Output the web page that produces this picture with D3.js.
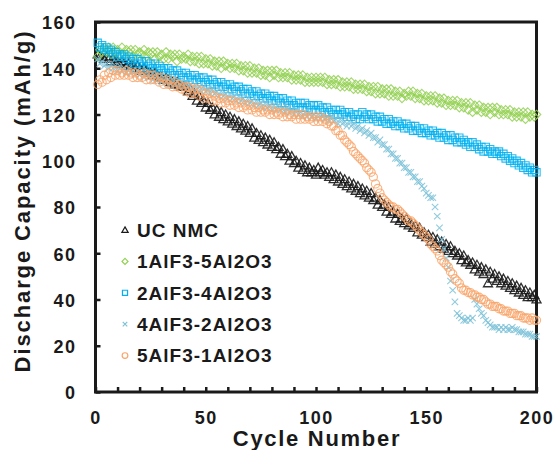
<!DOCTYPE html>
<html>
<head>
<meta charset="utf-8">
<script src="https://cdn.jsdelivr.net/npm/d3@7"></script>
<style>
  body { margin: 0; background: #fff; }
  text { font-family: Arial, "Liberation Sans", sans-serif; font-weight: bold; fill: #1a1a1a; }
</style>
</head>
<body>
<script>
const w = 554;
const h = 450;

// Data, cycles 1..200

const cycles = d3.range(1, 201);

const ucNmc = [
  146,145,145,144,145,144,143,144,143,143,142,143,142,141,142,141,141,140,141,140,
  139,140,139,138,138,137,138,137,136,136,135,136,135,134,134,133,134,133,132,132,
  132,130,131,128,129,126,128,125,126,123,125,122,123,120,122,119,121,118,120,117,
  119,116,118,115,117,114,116,113,115,112,114,110,112,109,111,108,110,107,109,106,
  108,105,106,103,105,102,103,100,102,99,100,97,99,96,98,95,97,95,96,94,
  97,95,96,94,95,93,95,92,94,91,93,90,92,89,91,88,90,87,89,86,
  88,85,87,84,86,83,84,81,83,80,81,78,80,77,78,75,77,74,75,73,
  75,72,73,71,72,69,71,68,69,67,68,65,67,64,66,63,65,62,64,61,
  63,60,61,59,60,57,59,56,57,55,56,53,55,52,54,51,53,47,52,49,
  51,48,50,47,49,46,48,45,47,44,46,43,45,42,44,41,43,41,42,40
];

const alf1 = [
  145,148,147,149,147,149,146,149,147,148,146,149,146,148,147,148,145,148,146,147,
  146,148,145,147,146,147,144,147,145,146,144,147,144,146,145,146,143,146,144,145,
  144,146,143,145,143,145,142,145,142,144,142,144,141,143,141,143,140,143,141,142,
  140,142,140,142,139,141,139,141,138,141,138,140,138,140,137,139,137,139,136,139,
  137,139,136,138,136,138,136,138,135,137,135,137,135,137,134,136,134,136,134,136,
  134,136,134,136,133,135,133,135,133,135,132,134,132,134,132,134,131,133,131,133,
  131,133,130,132,130,132,129,132,129,131,129,131,128,131,128,130,128,130,127,129,
  128,130,128,130,127,129,127,129,126,128,126,128,126,128,125,127,125,127,124,126,
  124,126,124,126,123,125,123,125,122,125,121,124,122,124,121,123,121,123,120,123,
  121,123,120,122,120,122,120,122,119,121,119,121,119,121,118,121,119,120,119,120
];

const alf2 = [
  151,149,150,148,149,147,148,146,147,145,146,145,146,144,145,143,144,142,144,142,
  143,141,143,141,142,140,142,140,141,139,140,138,140,138,139,137,139,137,138,136,
  138,136,137,135,137,135,136,134,136,134,135,133,135,133,134,132,134,132,133,131,
  133,131,132,130,132,130,131,129,131,129,130,128,130,128,129,127,129,127,128,126,
  128,126,127,125,127,125,126,124,126,124,125,123,125,123,125,123,124,122,124,122,
  124,122,123,121,123,121,122,120,122,120,122,120,121,119,121,119,120,118,120,118,
  121,119,120,118,120,118,119,117,119,117,118,116,118,116,117,115,117,115,116,114,
  116,114,115,113,115,113,114,112,114,112,113,111,113,111,112,110,112,110,111,109,
  111,109,110,108,110,108,109,107,108,106,108,106,107,105,106,104,106,104,105,103,
  104,103,104,102,103,101,102,100,101,99,100,98,99,97,98,96,97,95,96,95
];

const alf4 = [
  144,142,143,141,142,140,142,140,141,139,141,139,140,138,140,138,139,137,139,137,
  138,136,138,136,137,135,137,135,136,134,136,134,135,133,135,133,134,132,134,132,
  134,132,133,131,133,131,132,130,132,130,131,129,131,129,130,128,130,128,129,127,
  129,127,128,126,128,126,127,125,127,125,126,124,126,124,125,123,125,123,124,122,
  124,122,124,122,123,121,123,121,122,120,122,120,121,119,121,119,121,119,120,118,
  120,118,120,118,119,117,119,117,118,116,118,116,117,115,117,115,116,114,115,113,
  114,112,113,111,112,110,110,108,109,107,107,105,105,103,103,101,101,99,99,97,
  97,95,95,93,93,91,91,89,88,86,85,84,84,80,76,71,66,62,58,54,
  48,44,39,34,33,32,31,31,32,31,32,40,38,36,34,33,31,30,29,28,
  28,28,27,28,27,28,27,27,28,27,27,26,26,26,25,25,25,24,24,24
];

const alf5 = [
  133,135,134,137,135,138,136,139,137,139,137,138,137,139,137,138,136,138,136,137,
  136,138,135,137,135,137,135,136,134,136,133,135,133,135,132,134,132,133,131,132,
  130,132,129,131,129,131,128,130,127,129,127,129,126,128,126,127,125,127,125,126,
  124,126,124,125,123,125,123,124,122,124,122,123,121,123,121,122,121,122,120,122,
  120,121,120,121,119,121,119,120,119,120,118,120,118,120,118,119,118,119,117,119,
  117,119,117,118,116,117,115,115,113,113,111,111,109,108,107,106,104,103,102,101,
  100,99,97,96,95,93,90,88,86,84,83,82,81,80,80,79,79,78,77,76,
  75,74,74,73,72,71,70,69,68,67,66,64,63,62,61,59,57,56,55,54,
  52,51,49,48,47,45,44,44,43,43,42,42,41,41,40,40,39,38,38,37,
  37,37,36,36,35,35,35,34,34,34,33,33,33,32,32,32,31,32,31,31
];

const seriesNames = ["UC NMC", "1AlF3-5Al2O3", "2AlF3-4Al2O3", "4AlF3-2Al2O3", "5AlF3-1Al2O3"];
const seriesValues = [ucNmc, alf1, alf2, alf4, alf5];
const seriesColors = ["#1a1a1a", "#92d050", "#00b0f0", "#7cc2d8", "#f9a56a"];
const seriesShapes = ["triangle", "diamond", "square", "cross", "circle"];

const xTicks = d3.range(0, 201, 10);
const xLabels = [0, 50, 100, 150, 200];
const yTicks = d3.range(0, 161, 20);

// marker paths

function marker(shape, r) {
  if (shape === "triangle") return `M0,${-r * 1.05}L${r * 1.05},${r * 0.8}L${-r * 1.05},${r * 0.8}Z`;
  if (shape === "diamond") return `M0,${-r}L${r},0L0,${r}L${-r},0Z`;
  if (shape === "square") return `M${-r * 0.85},${-r * 0.85}H${r * 0.85}V${r * 0.85}H${-r * 0.85}Z`;
  if (shape === "cross") { const s = r * 0.75; return `M${-s},${-s}L${s},${s}M${s},${-s}L${-s},${s}`; }
  return d3.arc()({ innerRadius: 0, outerRadius: r * 0.95, startAngle: 0, endAngle: 2 * Math.PI });
}

// SVG

const svg = d3.select("body").append("svg").attr("width", w).attr("height", h);

const x = d3.scaleLinear().domain([0, 200]).range([95.5, 536.5]);
const y = d3.scaleLinear().domain([0, 160]).range([392, 22]);

// Axes

const xAxis = svg.append("g")
  .attr("transform", "translate(0,392)")
  .call(d3.axisBottom(x).tickValues(xTicks).tickSize(-5).tickPadding(19)
    .tickFormat((d) => (xLabels.includes(d) ? d : "")));

const yAxis = svg.append("g")
  .attr("transform", "translate(95.5,0)")
  .call(d3.axisLeft(y).tickValues(yTicks).tickSize(-5).tickPadding(19));

[xAxis, yAxis].forEach((g) => {
  g.select(".domain").remove();
  g.selectAll(".tick line").attr("stroke", "#1a1a1a").attr("stroke-width", 2.5);
  g.selectAll(".tick text")
    .attr("fill", "#1a1a1a")
    .style("font-size", "18px")
    .style("letter-spacing", "1.5px");
});
yAxis.selectAll(".tick text").attr("dy", "0.38em");

// Frame

svg.append("rect")
  .attr("x", 95.5).attr("y", 22)
  .attr("width", 441).attr("height", 370)
  .attr("fill", "none").attr("stroke", "#1a1a1a").attr("stroke-width", 3);

// Series

seriesValues.forEach((vals, i) => {
  svg.append("g")
    .selectAll("path")
    .data(vals)
    .join("path")
    .attr("transform", (d, j) => `translate(${x(cycles[j])},${y(d)})`)
    .attr("d", marker(seriesShapes[i], 4.3))
    .attr("fill", "none")
    .attr("stroke", seriesColors[i])
    .attr("stroke-width", i === 0 ? 1.3 : 1.1)
    .attr("stroke-opacity", i === 0 ? 0.9 : 0.85);
});

// Legend

const legend = svg.append("g")
  .selectAll("g")
  .data(seriesNames)
  .join("g")
  .attr("transform", (d, i) => `translate(125,${230 + i * 31.4})`);

legend.append("path")
  .attr("d", (d, i) => marker(seriesShapes[i], 3))
  .attr("fill", "none")
  .attr("stroke", (d, i) => seriesColors[i])
  .attr("stroke-width", 1.2);

legend.append("text")
  .attr("x", 12)
  .attr("dy", "0.36em")
  .style("font-size", "19px")
  .style("letter-spacing", "1px")
  .text((d) => d);

// Axis titles

svg.append("text")
  .attr("x", 317).attr("y", 446)
  .attr("text-anchor", "middle")
  .style("font-size", "22px")
  .style("letter-spacing", "1.7px")
  .text("Cycle Number");

svg.append("text")
  .attr("transform", "translate(30,201) rotate(-90)")
  .attr("text-anchor", "middle")
  .style("font-size", "22px")
  .style("letter-spacing", "1.9px")
  .text("Discharge Capacity (mAh/g)");
</script>
</body>
</html>
